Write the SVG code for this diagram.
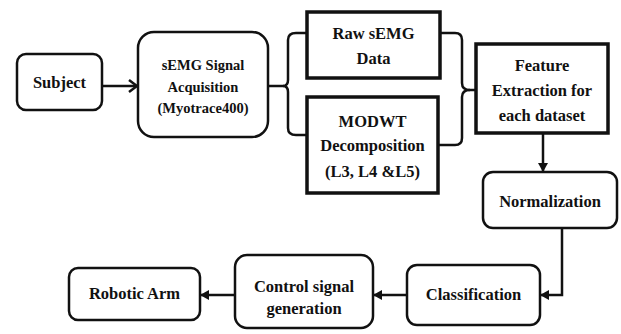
<svg xmlns="http://www.w3.org/2000/svg" width="621" height="334" viewBox="0 0 621 334" font-family="Liberation Serif, Times New Roman, serif">
<style>
.rb{fill:#fff;stroke:#111;stroke-width:2.5}
.sb{fill:#fff;stroke:#111;stroke-width:3.5}
.t{font-weight:bold;font-size:16.5px;fill:#111;text-anchor:middle}
.ts{font-size:14.5px}
.c{fill:none;stroke:#111;stroke-width:2.5}
</style>
<defs>
<marker id="ah" markerWidth="10" markerHeight="10" refX="8" refY="5" orient="auto" markerUnits="userSpaceOnUse">
<path d="M0,0 L9,5 L0,10 Z" fill="#111"/>
</marker>
<marker id="chev" markerWidth="12" markerHeight="14" refX="10" refY="7" orient="auto" markerUnits="userSpaceOnUse">
<path d="M2,1 L10,7 L2,13" fill="none" stroke="#111" stroke-width="2.5"/>
</marker>
</defs>
<rect width="621" height="334" fill="#fff"/>
<g id="connectors">
<line class="c" x1="102" y1="86" x2="137" y2="86" marker-end="url(#chev)"/>
<path class="c" d="M268,86 H283 Q288,86 288,80 V40 Q288,33 296,33 H307"/>
<path class="c" d="M283,86 Q288,86 288,92 V128 Q288,135 296,135 H307"/>
<path class="c" d="M440,33 H455 Q462,33 462,40 V83 Q462,90 470,90 H477"/>
<path class="c" d="M438,145 H455 Q462,145 462,138 V97 Q462,90 470,90"/>
<line class="c" x1="543" y1="134" x2="543" y2="171" marker-end="url(#ah)"/>
<path class="c" d="M562,228 V295 H541" marker-end="url(#ah)"/>
<line class="c" x1="407" y1="295" x2="374" y2="295" marker-end="url(#ah)"/>
<line class="c" x1="235" y1="295" x2="201" y2="295" marker-end="url(#ah)"/>
</g>
<g id="subject">
<rect class="rb" x="17" y="54" width="85" height="56" rx="9"/>
<text class="t" x="59.5" y="88">Subject</text>
</g>
<g id="acquisition">
<rect class="rb" x="138" y="32" width="130" height="105" rx="16"/>
<text class="t ts" x="203" y="70">sEMG Signal</text>
<text class="t ts" x="203" y="92">Acquisition</text>
<text class="t ts" x="203" y="113">(Myotrace400)</text>
</g>
<g id="raw">
<rect class="sb" x="307" y="12" width="133" height="66"/>
<text class="t" x="373.5" y="39">Raw sEMG</text>
<text class="t" x="373.5" y="64">Data</text>
</g>
<g id="modwt">
<rect class="sb" x="307" y="97" width="131" height="96"/>
<text class="t" x="372.5" y="127">MODWT</text>
<text class="t" x="372.5" y="151">Decomposition</text>
<text class="t" x="372.5" y="177">(L3, L4 &amp;L5)</text>
</g>
<g id="feature">
<rect class="sb" x="476" y="44" width="132" height="89"/>
<text class="t" x="542" y="71">Feature</text>
<text class="t" x="542" y="96">Extraction for</text>
<text class="t" x="542" y="121">each dataset</text>
</g>
<g id="normalization">
<rect class="rb" x="483" y="172" width="134" height="56" rx="10"/>
<text class="t" x="550" y="207">Normalization</text>
</g>
<g id="classification">
<rect class="rb" x="407" y="265" width="133" height="60" rx="10"/>
<text class="t" x="473.5" y="300">Classification</text>
</g>
<g id="control">
<rect class="rb" x="235" y="255" width="138" height="73" rx="12"/>
<text class="t" x="304" y="292">Control signal</text>
<text class="t" x="304" y="314">generation</text>
</g>
<g id="robotic">
<rect class="rb" x="69" y="268" width="131" height="52" rx="9"/>
<text class="t" x="134.5" y="299">Robotic Arm</text>
</g>
</svg>
